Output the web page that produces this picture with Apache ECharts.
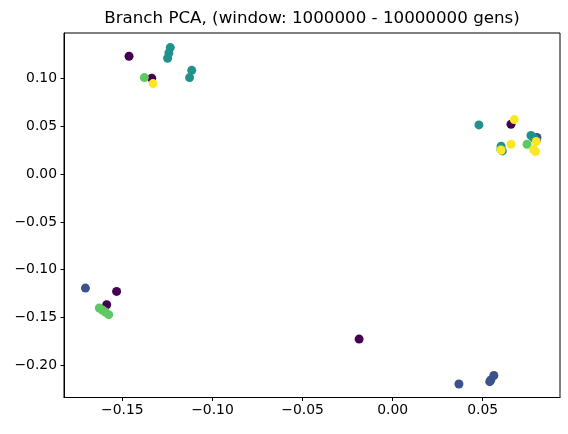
<!DOCTYPE html>
<html>
<head>
<meta charset="utf-8">
<script src="https://cdn.jsdelivr.net/npm/echarts@6/dist/echarts.min.js"></script>
<style>
  html, body { margin: 0; padding: 0; background: #fff; }
  #chart { width: 568px; height: 434px; }
</style>
</head>
<body>
<div id="chart"></div>
<script>
// PCA points grouped by colour level (viridis 0, .25, .5, .75, 1)
const level0 = [[-0.1463, 0.1235], [-0.1337, 0.1005], [-0.1532, -0.1228], [-0.1587, -0.1368],
  [-0.0186, -0.1727], [0.0657, 0.0523]]
const level1 = [[-0.1705, -0.1193], [0.0368, -0.2198], [0.0539, -0.2173], [0.0545, -0.2156],
  [0.0562, -0.2109], [0.0801, 0.0384], [0.0799, 0.0360]]
const level2 = [[-0.1234, 0.1326], [-0.1242, 0.1270], [-0.1249, 0.1214], [-0.1115, 0.1088],
  [-0.1127, 0.1012], [0.0479, 0.0516], [0.0602, 0.0293], [0.0609, 0.0244], [0.0768, 0.0405],
  [0.0785, 0.0375]]
const level3 = [[-0.1378, 0.1012], [-0.1628, -0.1402], [-0.1611, -0.1423], [-0.1595, -0.1444],
  [-0.1576, -0.1471], [0.0600, 0.0260], [0.0746, 0.0314]]
const level4 = [[-0.1330, 0.0949], [0.0675, 0.0572], [0.0602, 0.0251], [0.0657, 0.0314],
  [0.0797, 0.0342], [0.0782, 0.0258], [0.0793, 0.0238]]

const levelColors = ['#440154', '#3b528b', '#21918c', '#5ec962', '#fde725']
const xTicks = [-0.15, -0.10, -0.05, 0.00, 0.05]
const yTicks = [-0.20, -0.15, -0.10, -0.05, 0.00, 0.05, 0.10]

const fmt = v => v.toFixed(2).replace('-', '\u2212')
const font = 'DejaVu Sans'

const chart = echarts.init(document.getElementById('chart'))
chart.setOption({
  animation: false,
  title: {
    text: 'Branch PCA, (window: 1000000 - 10000000 gens)',
    left: 312, top: 10, padding: 0, textAlign: 'center',
    textStyle: { fontFamily: font, fontSize: 16.7, fontWeight: 'normal', color: '#000' }
  },
  grid: {
    left: 64, right: 8, top: 33, bottom: 36.5, outerBoundsMode: 'none',
    show: true, borderColor: '#000', borderWidth: 1, backgroundColor: 'transparent'
  },
  xAxis: {
    type: 'value', min: -0.1824, max: 0.0929,
    axisLine: { show: true, onZero: false, lineStyle: { color: '#000', width: 1 } },
    axisTick: { show: true, length: 3.5, customValues: xTicks, lineStyle: { color: '#000' } },
    axisLabel: { customValues: xTicks, margin: 6, formatter: fmt,
      fontFamily: font, fontSize: 13.9, color: '#000' },
    splitLine: { show: false }
  },
  yAxis: {
    type: 'value', min: -0.2339, max: 0.1479,
    axisLine: { show: true, onZero: false, lineStyle: { color: '#000', width: 1 } },
    axisTick: { show: true, length: 3.5, customValues: yTicks, lineStyle: { color: '#000' } },
    axisLabel: { customValues: yTicks, margin: 7, formatter: fmt,
      fontFamily: font, fontSize: 13.9, color: '#000' },
    splitLine: { show: false }
  },
  series: [level0, level1, level2, level3, level4].map((d, i) => ({
    type: 'scatter', data: d, symbolSize: 9,
    itemStyle: { color: levelColors[i], opacity: 1 }
  }))
})
</script>
</body>
</html>
